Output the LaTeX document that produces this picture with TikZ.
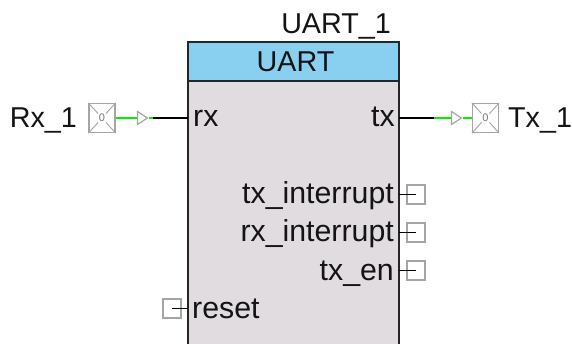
\documentclass[tikz,border=0pt]{standalone}
\usepackage{fontspec}
\setmainfont{Liberation Sans}
\usepackage{tikz}
\usetikzlibrary{shapes.geometric}
\definecolor{pinbox}{RGB}{165,165,165}
\definecolor{bodyfill}{RGB}{224,220,224}
\definecolor{headfill}{RGB}{137,207,240}
\definecolor{wiregreen}{RGB}{0,240,0}
\definecolor{inktext}{RGB}{20,20,20}
\tikzset{
    label/.style={font=\fontsize{28.7}{30}\selectfont,text=inktext,inner sep=0pt},
    pinlabel/.style={font=\fontsize{30.3}{31}\selectfont,text=inktext,inner sep=0pt},
    termbox/.style={draw=pinbox,line width=1.3pt,fill=white,minimum width=18pt,minimum height=19pt,inner sep=0pt},
    iobox/.style={draw=pinbox,line width=1.3pt,fill=white,minimum width=26pt,minimum height=29pt,inner sep=0pt},
    buffer/.style={draw=pinbox,line width=1.2pt,fill=white,isosceles triangle,isosceles triangle stretches,minimum width=13pt,minimum height=10pt,inner sep=0pt},
    wire/.style={black,line width=1.3pt},
    netwire/.style={wiregreen,line width=1.5pt},
}
\begin{document}
\begin{tikzpicture}[x=1pt,y=-1pt]
            \clip (0,0) rectangle (572,344);
            \fill[bodyfill] (188,81) rectangle (399,360);
            \fill[headfill] (188,42) rectangle (399,81);
            \draw[black!85,line width=2.6pt] (188,42) rectangle (399,360);
            \draw[black!85,line width=2.6pt] (188,81) -- (399,81);

            \node[label,anchor=base east] (uartname) at (391,34) {UART\_1};
            \node[label,anchor=base] (uarthead) at (295.5,72) {UART};

            % left side
            \node[pinlabel,anchor=base west] (rxtext) at (193,127) {rx};
            \node[pinlabel,anchor=base west] (resettext) at (192,318) {reset};
            \node[label,anchor=base east] (rxname) at (77,128) {Rx\_1};

            % right side
            \node[pinlabel,anchor=base east] (txtext) at (395,127) {tx};
            \node[pinlabel,anchor=base east] (txinttext) at (394,204) {tx\_interrupt};
            \node[pinlabel,anchor=base east] (rxinttext) at (394,242) {rx\_interrupt};
            \node[pinlabel,anchor=base east] (txentext) at (394,280) {tx\_en};
            \node[label,anchor=base west] (txname) at (508,128) {Tx\_1};

            % pins on the body edge
            \coordinate (rxpin) at (188,118);
            \coordinate (txpin) at (399,118);
            \coordinate (txintpin) at (399,194.5);
            \coordinate (rxintpin) at (399,232.5);
            \coordinate (txenpin) at (399,270.5);
            \coordinate (resetpin) at (188,308.5);

            % rx and tx nets
            \coordinate (rxjoin) at (153,118);
            \coordinate (txjoin) at (434,118);
            \node[iobox] (rxport) at (102,118) {};
            \node[iobox] (txport) at (485.5,118) {};
            \node[buffer] (rxbuf) at (141,118) {};
            \node[buffer] (txbuf) at (455,118) {};
            \draw[netwire] (rxport) -- (rxbuf);
            \draw[netwire] (rxbuf) -- (rxjoin);
            \draw[wire] (rxjoin) -- (rxpin);
            \draw[wire] (txpin) -- (txjoin);
            \draw[netwire] (txjoin) -- (txbuf);
            \draw[netwire] (txbuf) -- (txport);
            \foreach \portname in {rxport,txport}{
                \draw[pinbox,line width=0.9pt] (\portname.north west) -- (\portname.south east);
                \draw[pinbox,line width=0.9pt] (\portname.north east) -- (\portname.south west);
                \node[fill=white,text=pinbox!70!black,font=\fontsize{11}{11}\selectfont,inner sep=0.6pt,ellipse] at (\portname) {0};
            }

            % terminals
            \node[termbox] (txintbox) at (416,194.5) {};
            \node[termbox] (rxintbox) at (416,232.5) {};
            \node[termbox] (txenbox) at (416,270.5) {};
            \node[termbox] (resetbox) at (172,308.5) {};
            \draw[wire] (txintpin) -- (txintbox.center);
            \draw[wire] (rxintpin) -- (rxintbox.center);
            \draw[wire] (txenpin) -- (txenbox.center);
            \draw[wire] (resetpin) -- (resetbox.center);
\end{tikzpicture}
\end{document}
